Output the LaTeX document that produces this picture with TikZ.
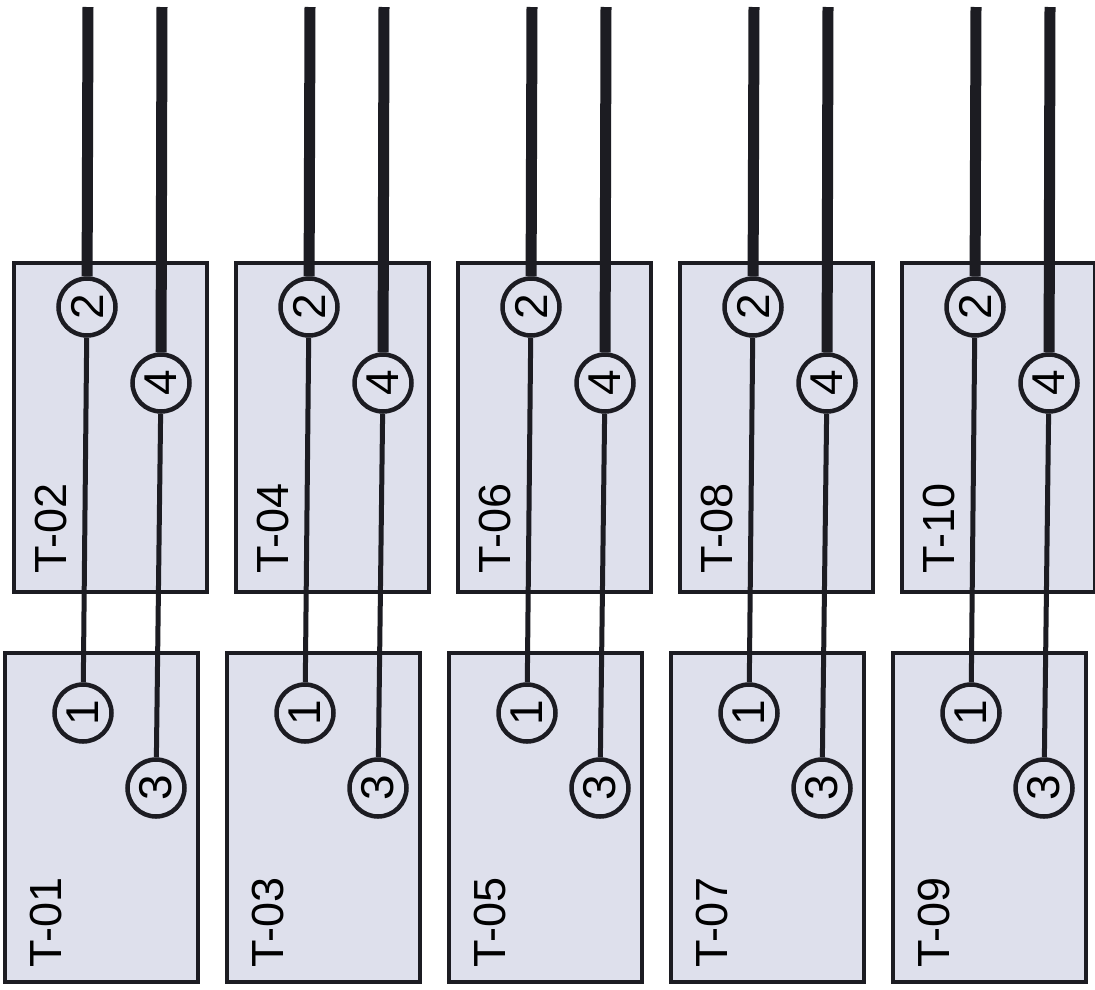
\documentclass[tikz,border=0pt]{standalone}
\usepackage{fontspec}
\setmainfont{Liberation Sans}
\definecolor{tankfill}{RGB}{222,224,236}
\definecolor{ink}{RGB}{28,28,34}
\tikzset{
  tank/.style={draw=ink, line width=4.5pt, fill=tankfill, minimum width=193pt, minimum height=329pt, inner sep=0pt},
  port/.style={circle, draw=ink, line width=4.5pt, fill=tankfill, minimum size=57pt, inner sep=0pt, rotate=90, font=\fontsize{46}{52}\selectfont},
  tag/.style={rotate=90, anchor=base west, inner sep=0pt, font=\fontsize{45}{52}\selectfont},
  pipe/.style={draw=ink, line width=11pt},
  lead/.style={draw=ink, line width=5pt}
}
\begin{document}
\begin{tikzpicture}[x=1pt, y=-1pt]
	\useasboundingbox (0,0) rectangle (1095,989);
	\foreach \d/\lo/\up in {0/01/02, 222/03/04, 444/05/06, 666/07/08, 888/09/10} {
		% tanks
		\node[tank] (up\up) at (110.5+\d,427.5) {};
		\node[tank] (lo\lo) at (101.5+\d,817.5) {};
		\node[tag] (tag\up) at (66+\d,574) {T-\up};
		\node[tag] (tag\lo) at (61+\d,968) {T-\lo};
		% ports
		\node[port] (two\up) at (87+\d,307) {2};
		\node[port] (four\up) at (161+\d,383) {4};
		\node[port] (one\lo) at (83+\d,713) {1};
		\node[port] (three\lo) at (156+\d,788) {3};
		\coordinate (topa\up) at (88+\d,7);
		\coordinate (topb\up) at (162+\d,7);
		% pipes
		\draw[pipe] (two\up) -- (topa\up);
		\draw[pipe] (four\up) -- (topb\up);
		\draw[lead] (two\up) -- (one\lo);
		\draw[lead] (four\up) -- (three\lo);
	}
\end{tikzpicture}
\end{document}
